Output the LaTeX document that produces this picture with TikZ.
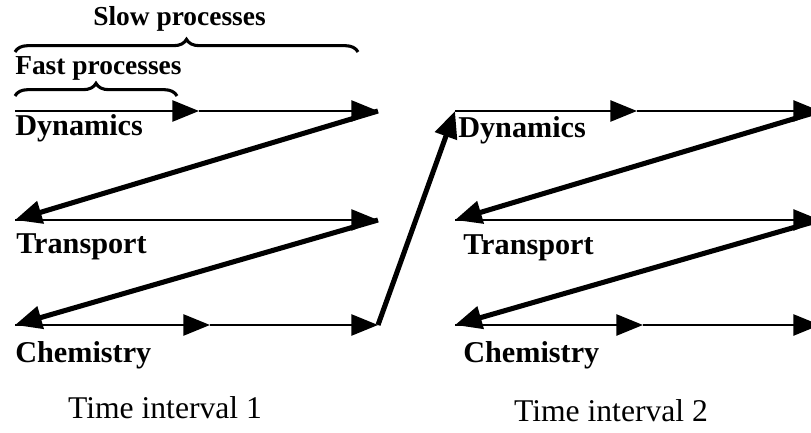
\documentclass[tikz,border=0pt]{standalone}
\usepackage{fontspec}
\setmainfont{Liberation Serif}
\usetikzlibrary{arrows.meta,decorations.pathreplacing}

\begin{document}
\begin{tikzpicture}[
    x=.025cm,y=-.025cm,
    flow/.style={-{Triangle[length=19pt,width=15pt]},line width=1.8pt},
    jump/.style={-{Triangle[length=19pt,width=16pt]},line width=3.6pt},
    rowlabel/.style={anchor=base west,inner sep=0pt,font=\fontsize{21.5}{24}\selectfont\bfseries},
    span/.style={decorate,decoration={brace,amplitude=9pt},line width=2.2pt},
    spanlabel/.style={anchor=base west,inner sep=0pt,font=\fontsize{19.5}{22}\selectfont\bfseries},
    interval/.style={anchor=base,inner sep=0pt,font=\fontsize{22.5}{26}\selectfont}
  ]
    \useasboundingbox (0,0) rectangle (811,433);

    \coordinate (dyn1w) at (15,111);  \coordinate (dyn1m) at (199,111); \coordinate (dyn1e) at (378,111);
    \coordinate (tra1w) at (15,220);  \coordinate (tra1e) at (378,220);
    \coordinate (che1w) at (15,325);  \coordinate (che1m) at (210,325); \coordinate (che1e) at (378,325);
    \coordinate (dyn2w) at (455,111); \coordinate (dyn2m) at (637,111); \coordinate (dyn2e) at (820,111);
    \coordinate (tra2w) at (455,220); \coordinate (tra2e) at (820,220);
    \coordinate (che2w) at (455,325); \coordinate (che2m) at (643,325); \coordinate (che2e) at (820,325);
    \coordinate (fastw) at (15,96);   \coordinate (faste) at (177,96);
    \coordinate (sloww) at (15,52);   \coordinate (slowe) at (358,52);

    \node[spanlabel] (slow) at (93,26) {Slow processes};
    \node[spanlabel] (fast) at (15,75) {Fast processes};
    \draw[span] (sloww) -- (slowe);
    \draw[span] (fastw) -- (faste);

    \node[rowlabel] (dyn1) at (15,136) {Dynamics};
    \node[rowlabel] (tra1) at (16,253) {Transport};
    \node[rowlabel] (che1) at (15,362) {Chemistry};
    \node[rowlabel] (dyn2) at (458,138) {Dynamics};
    \node[rowlabel] (tra2) at (463,254) {Transport};
    \node[rowlabel] (che2) at (463,362) {Chemistry};

    \node[interval] (int1) at (165,418) {Time interval 1};
    \node[interval] (int2) at (611,421) {Time interval 2};

    \draw[jump] (dyn1e) -- (tra1w);
    \draw[jump] (tra1e) -- (che1w);
    \draw[jump] (che1e) -- (dyn2w);
    \draw[jump] (dyn2e) -- (tra2w);
    \draw[jump] (tra2e) -- (che2w);

    \draw[flow] (dyn1w) -- (dyn1m);
    \draw[flow] (dyn1m) -- (dyn1e);
    \draw[flow] (tra1w) -- (tra1e);
    \draw[flow] (che1w) -- (che1m);
    \draw[flow] (che1m) -- (che1e);
    \draw[flow] (dyn2w) -- (dyn2m);
    \draw[flow] (dyn2m) -- (dyn2e);
    \draw[flow] (tra2w) -- (tra2e);
    \draw[flow] (che2w) -- (che2m);
    \draw[flow] (che2m) -- (che2e);
  \end{tikzpicture}
\end{document}
